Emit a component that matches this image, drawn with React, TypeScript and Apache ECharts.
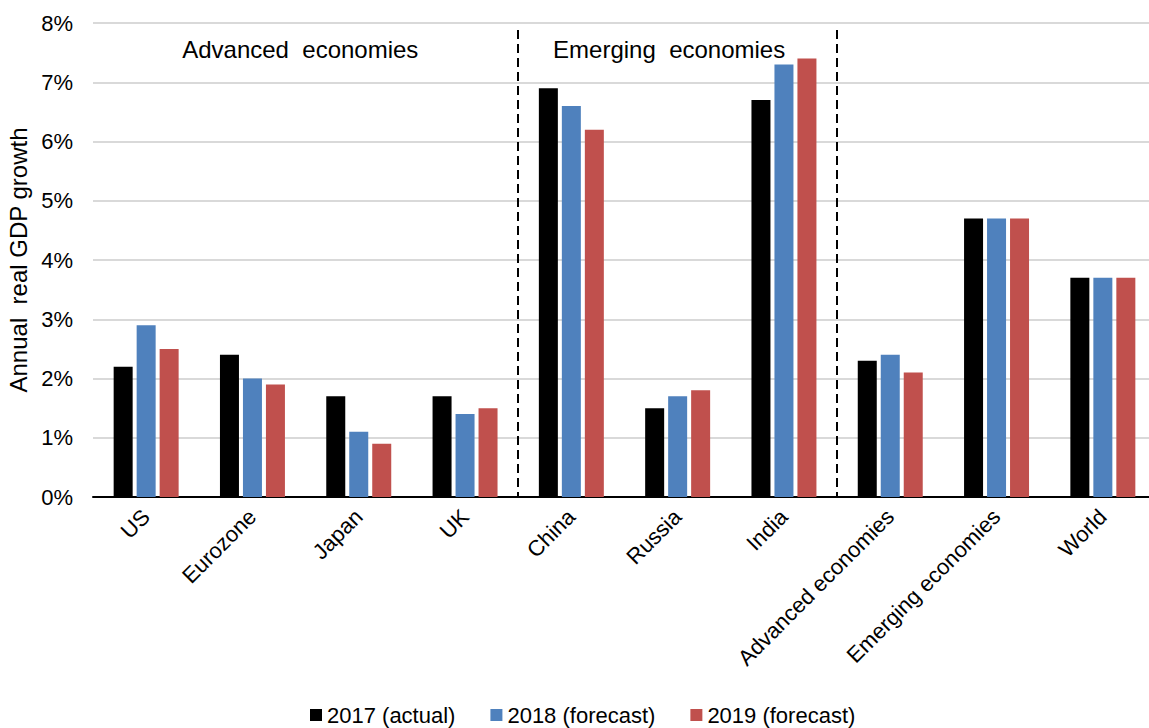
import React, { useEffect, useRef } from "react";
import * as echarts from "echarts";

const categories = [
  "US",
  "Eurozone",
  "Japan",
  "UK",
  "China",
  "Russia",
  "India",
  "Advanced economies",
  "Emerging economies",
  "World",
];
const seriesNames = ["2017 (actual)", "2018 (forecast)", "2019 (forecast)"];
const values2017 = [2.2, 2.4, 1.7, 1.7, 6.9, 1.5, 6.7, 2.3, 4.7, 3.7];
const values2018 = [2.9, 2.0, 1.1, 1.4, 6.6, 1.7, 7.3, 2.4, 4.7, 3.7];
const values2019 = [2.5, 1.9, 0.9, 1.5, 6.2, 1.8, 7.4, 2.1, 4.7, 3.7];
const yTicks = [0, 1, 2, 3, 4, 5, 6, 7, 8];
const groupDividers = [4, 7];
const groupLabels = ["Advanced  economies", "Emerging  economies"];
const groupLabelCenters = [1.95, 5.42];

const colors = ["#000000", "#4F81BD", "#C0504D"];
const FONT = "'Liberation Sans', Arial, sans-serif";

export default function App() {
  const ref = useRef<HTMLDivElement>(null);
  useEffect(() => {
    if (!ref.current) return;
    const chart = echarts.init(ref.current, undefined, { renderer: "svg" });
    const allValues = [values2017, values2018, values2019];
    chart.setOption({
      animation: false,
      textStyle: { fontFamily: FONT },
      grid: {
        left: 93,
        top: 23,
        width: 1063,
        height: 474,
        outerBoundsMode: "none",
        containLabel: false,
      },
      legend: {
        left: 310,
        top: 704,
        padding: 0,
        itemWidth: 12,
        itemHeight: 12,
        itemGap: 35,
        icon: "rect",
        textStyle: { fontSize: 22, color: "#000", fontFamily: FONT },
        data: seriesNames,
      },
      xAxis: [
        {
          type: "category",
          data: categories,
          axisLine: { lineStyle: { color: "#000", width: 2 } },
          axisTick: { show: false },
          axisLabel: {
            rotate: 45,
            fontSize: 22,
            color: "#000",
            margin: 16,
            interval: 0,
            fontFamily: FONT,
          },
        },
        {
          type: "value",
          min: 0,
          max: categories.length,
          show: false,
        },
      ],
      yAxis: {
        type: "value",
        min: yTicks[0],
        max: yTicks[yTicks.length - 1],
        interval: 1,
        name: "Annual  real GDP growth",
        nameLocation: "middle",
        nameGap: 60,
        nameTextStyle: { fontSize: 24, color: "#000", fontFamily: FONT },
        axisLine: { show: false },
        axisTick: { show: false },
        axisLabel: {
          formatter: "{value}%",
          fontSize: 22,
          color: "#000",
          margin: 20,
          fontFamily: FONT,
        },
        splitLine: { lineStyle: { color: "#d9d9d9", width: 2 } },
      },
      series: [
        ...seriesNames.map((name, i) => ({
          name,
          type: "bar",
          data: allValues[i],
          barWidth: 19,
          barGap: "21%",
          itemStyle: { color: colors[i] },
        })),
        {
          type: "scatter",
          xAxisIndex: 1,
          yAxisIndex: 0,
          data: [],
          silent: true,
          markLine: {
            symbol: "none",
            silent: true,
            label: { show: false },
            lineStyle: { type: [9, 5], color: "#000", width: 2 },
            data: groupDividers.map((d) => [
              { coord: [d, 7.88] },
              { coord: [d, 0] },
            ]),
          },
          markPoint: {
            symbol: "rect",
            symbolSize: 0,
            silent: true,
            label: {
              show: true,
              position: "inside",
              fontSize: 24,
              color: "#000",
              fontFamily: FONT,
              formatter: (p: any) => p.name,
            },
            data: groupLabels.map((name, i) => ({
              name,
              coord: [groupLabelCenters[i], 7.55],
            })),
          },
        },
      ],
    });
    return () => chart.dispose();
  }, []);
  return (
    <div
      ref={ref}
      style={{ position: "absolute", left: 0, top: 0, width: 1149, height: 728 }}
    />
  );
}
